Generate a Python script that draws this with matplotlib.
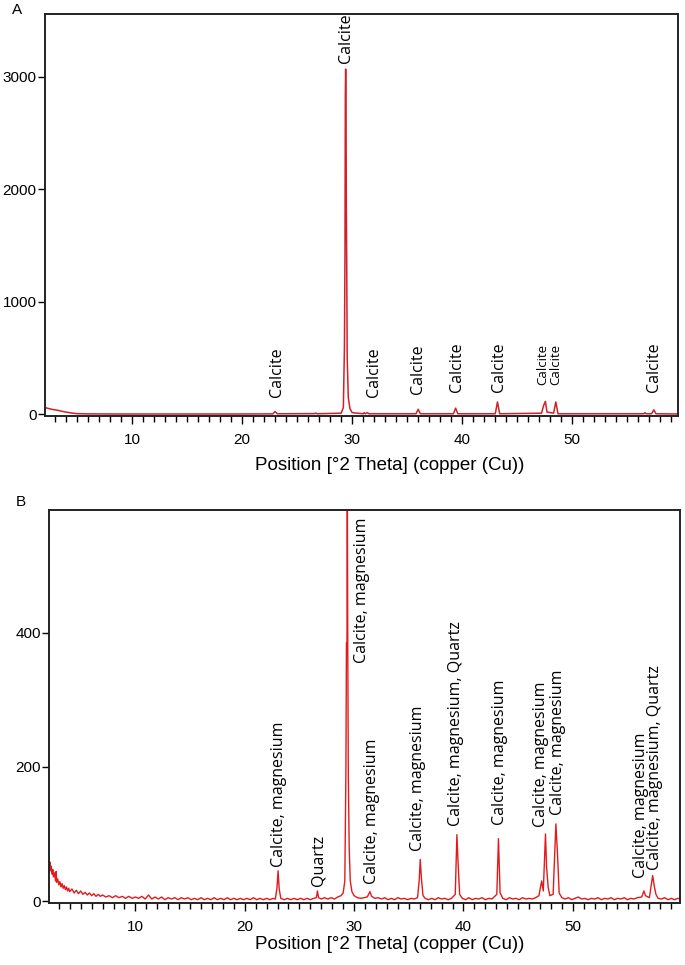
import matplotlib
matplotlib.use("Agg")
import matplotlib.pyplot as plt
from matplotlib.ticker import MultipleLocator

# panel A trace (2theta, counts)
a_two_theta = [2.1, 2.3, 2.5, 2.7, 3.0, 3.3, 3.6, 4.0, 4.5, 5.0, 6.0, 8.0, 12.0, 16.0, 20.0,
               22.8, 23.0, 23.2, 26.6, 26.7, 26.8, 29.0, 29.2, 29.3, 29.35, 29.38, 29.41,
               29.44, 29.47, 29.5, 29.55, 29.65, 29.8, 30.0, 31.0, 31.1, 31.2, 31.4, 31.5,
               35.8, 36.0, 36.2, 39.2, 39.4, 39.6, 43.0, 43.2, 43.4, 47.2, 47.4, 47.55,
               47.7, 48.3, 48.5, 48.7, 56.5, 56.6, 56.7, 57.2, 57.4, 57.6, 59.6]
a_counts = [60, 55, 50, 45, 40, 35, 28, 20, 12, 6, 4, 3, 3, 3, 3,
            4, 25, 5, 6, 12, 5, 10, 60, 600, 1450, 2830, 3070,
            2830, 1850, 1450, 500, 150, 50, 15, 5, 15, 5, 15, 5,
            5, 45, 5, 5, 55, 5, 5, 110, 5, 10, 80, 115,
            20, 10, 110, 5, 5, 15, 5, 5, 40, 5, 3]

# panel B trace (2theta, counts)
b_trace = [
    (2.1, 65), (2.15, 50), (2.2, 58), (2.25, 45), (2.3, 52), (2.4, 40), (2.45, 47),
    (2.5, 36), (2.6, 42), (2.7, 30), (2.75, 44), (2.8, 28), (2.9, 33), (3.0, 24),
    (3.1, 29), (3.2, 21), (3.3, 26), (3.4, 19), (3.5, 23), (3.6, 17), (3.7, 21),
    (3.8, 15), (3.9, 19), (4.0, 14), (4.2, 18), (4.4, 12), (4.6, 16), (4.8, 11),
    (5.0, 15), (5.2, 10), (5.4, 13), (5.6, 9), (5.8, 12), (6.0, 8), (6.2, 11),
    (6.4, 7), (6.6, 10), (6.8, 7), (7.0, 9), (7.3, 6), (7.6, 8), (7.9, 5), (8.2, 8),
    (8.5, 5), (8.8, 7), (9.1, 4), (9.4, 7), (9.7, 4), (10.0, 6), (10.3, 4), (10.6, 7),
    (10.9, 3), (11.2, 9), (11.5, 3), (11.8, 6), (12.1, 3), (12.4, 6), (12.7, 2),
    (13.0, 5), (13.3, 3), (13.6, 5), (13.9, 2), (14.2, 5), (14.5, 3), (14.8, 5),
    (15.1, 2), (15.4, 4), (15.7, 2), (16.0, 5), (16.3, 2), (16.6, 4), (16.9, 2),
    (17.2, 5), (17.5, 2), (17.8, 4), (18.1, 2), (18.4, 5), (18.7, 2), (19.0, 4),
    (19.3, 2), (19.6, 4), (19.9, 2), (20.2, 4), (20.5, 2), (20.8, 5), (21.1, 2),
    (21.4, 4), (21.7, 2), (22.0, 4), (22.3, 2), (22.6, 4), (22.8, 3), (22.95, 20),
    (23.05, 45), (23.15, 18), (23.3, 4), (23.6, 2), (23.9, 4), (24.2, 2), (24.5, 4),
    (24.8, 2), (25.1, 4), (25.4, 2), (25.7, 4), (26.0, 2), (26.3, 4), (26.55, 5),
    (26.65, 15), (26.75, 5), (27.0, 3), (27.3, 5), (27.6, 3), (27.9, 5), (28.2, 3),
    (28.5, 6), (28.8, 8), (29.0, 12), (29.15, 30), (29.25, 190), (29.3, 385),
    (29.35, 385), (29.38, 620), (29.42, 385), (29.47, 190), (29.55, 80), (29.65, 30),
    (29.8, 14), (30.0, 8), (30.3, 5), (30.6, 4), (30.9, 5), (31.2, 6), (31.45, 14),
    (31.6, 7), (31.9, 4), (32.2, 5), (32.5, 3), (32.8, 5), (33.1, 2), (33.4, 4),
    (33.7, 2), (34.0, 5), (34.3, 3), (34.6, 4), (34.9, 2), (35.2, 4), (35.5, 3),
    (35.8, 5), (35.95, 30), (36.05, 62), (36.15, 35), (36.3, 8), (36.5, 4), (36.8, 2),
    (37.1, 4), (37.4, 2), (37.7, 5), (38.0, 3), (38.3, 4), (38.6, 2), (38.9, 4),
    (39.25, 10), (39.4, 99), (39.5, 60), (39.65, 10), (39.9, 4), (40.2, 2), (40.5, 5),
    (40.8, 2), (41.1, 4), (41.4, 3), (41.7, 5), (42.0, 2), (42.3, 4), (42.6, 3),
    (43.05, 10), (43.2, 93), (43.35, 12), (43.6, 4), (43.9, 2), (44.2, 5), (44.5, 3),
    (44.8, 4), (45.1, 2), (45.4, 5), (45.7, 3), (46.0, 4), (46.3, 3), (46.6, 5),
    (46.9, 8), (47.15, 30), (47.3, 15), (47.5, 100), (47.6, 50), (47.75, 20),
    (47.9, 8), (48.2, 10), (48.45, 115), (48.6, 70), (48.75, 12), (49.0, 5), (49.3, 3),
    (49.6, 5), (49.9, 2), (50.2, 4), (50.5, 6), (50.8, 3), (51.1, 4), (51.4, 2),
    (51.7, 4), (52.0, 3), (52.3, 5), (52.6, 2), (52.9, 4), (53.2, 3), (53.5, 5),
    (53.8, 2), (54.1, 4), (54.4, 3), (54.7, 5), (55.0, 2), (55.3, 4), (55.6, 3),
    (55.9, 5), (56.3, 6), (56.5, 15), (56.65, 8), (57.0, 5), (57.3, 38), (57.45, 22),
    (57.6, 10), (57.8, 4), (58.1, 3), (58.4, 5), (58.7, 2), (59.0, 4), (59.3, 2),
    (59.6, 4), (59.8, 3)]
b_two_theta = [p[0] for p in b_trace]
b_counts = [p[1] for p in b_trace]

# phase labels: position, bottom of text (counts), text, font size
a_labels = [(23.2, 150, "Calcite", 11.5), (29.45, 3120, "Calcite", 11.5),
            (32.0, 150, "Calcite", 11.5), (36.0, 180, "Calcite", 11.5),
            (39.5, 195, "Calcite", 11.5), (43.3, 195, "Calcite", 11.5),
            (47.3, 265, "Calcite", 9.5), (48.5, 265, "Calcite", 9.5),
            (57.4, 195, "Calcite", 11.5)]
b_labels = [(23.1, 50, "Calcite, magnesium"), (26.7, 23, "Quartz"),
            (30.7, 355, "Calcite, magnesium"), (31.6, 25, "Calcite, magnesium"),
            (35.8, 75, "Calcite, magnesium"), (39.3, 112, "Calcite, magnesium, Quartz"),
            (43.3, 113, "Calcite, magnesium"), (47.1, 110, "Calcite, magnesium"),
            (48.6, 129, "Calcite, magnesium"), (56.2, 35, "Calcite, magnesium"),
            (57.5, 46, "Calcite, magnesium, Quartz")]

plt.rcParams['font.family'] = ['Liberation Sans', 'DejaVu Sans']

fig = plt.figure(figsize=(6.85, 9.65), dpi=100)
ax_a = fig.add_axes([0.0657, 0.5689, 0.9241, 0.4166])
ax_b = fig.add_axes([0.0715, 0.0642, 0.9212, 0.4073])


def style_axis(ax, title_x, title_y):
    ax.xaxis.set_major_locator(MultipleLocator(10))
    ax.xaxis.set_minor_locator(MultipleLocator(1))
    ax.tick_params(axis='x', which='major', length=6, width=1, labelsize=11, pad=6)
    ax.tick_params(axis='x', which='minor', length=4, width=1)
    ax.tick_params(axis='y', which='major', length=5, width=1, labelsize=11, pad=1)
    for s in ax.spines.values():
        s.set_linewidth(1.4)
        s.set_color('#222222')
    ax.set_xlabel("Position [°2 Theta] (copper (Cu))", fontsize=13.5)
    ax.xaxis.set_label_coords(title_x, title_y)


ax_a.plot(a_two_theta, a_counts, color='#d0202a', lw=1.1)
ax_a.set_xlim(2.1, 59.6)
ax_a.set_ylim(-15, 3560)
ax_a.set_yticks([0, 1000, 2000, 3000])
style_axis(ax_a, 0.545, -0.102)
for x, y, t, fs in a_labels:
    ax_a.text(x, y, t, rotation=90, ha='center', va='bottom', fontsize=fs,
              family='Open Sans', clip_on=False)

ax_b.plot(b_two_theta, b_counts, color='#e31a1c', lw=1.0)
ax_b.set_xlim(2.1, 59.8)
ax_b.set_ylim(-3, 583)
ax_b.set_yticks([0, 200, 400])
style_axis(ax_b, 0.54, -0.085)
for x, y, t in b_labels:
    ax_b.text(x, y, t, rotation=90, ha='center', va='bottom', fontsize=11.5,
              family='Open Sans')

fig.text(12 / 685, 1 - 14 / 965, "A", fontsize=11)
fig.text(16 / 685, 1 - 506 / 965, "B", fontsize=11)

fig.savefig("out.png", dpi=100)
